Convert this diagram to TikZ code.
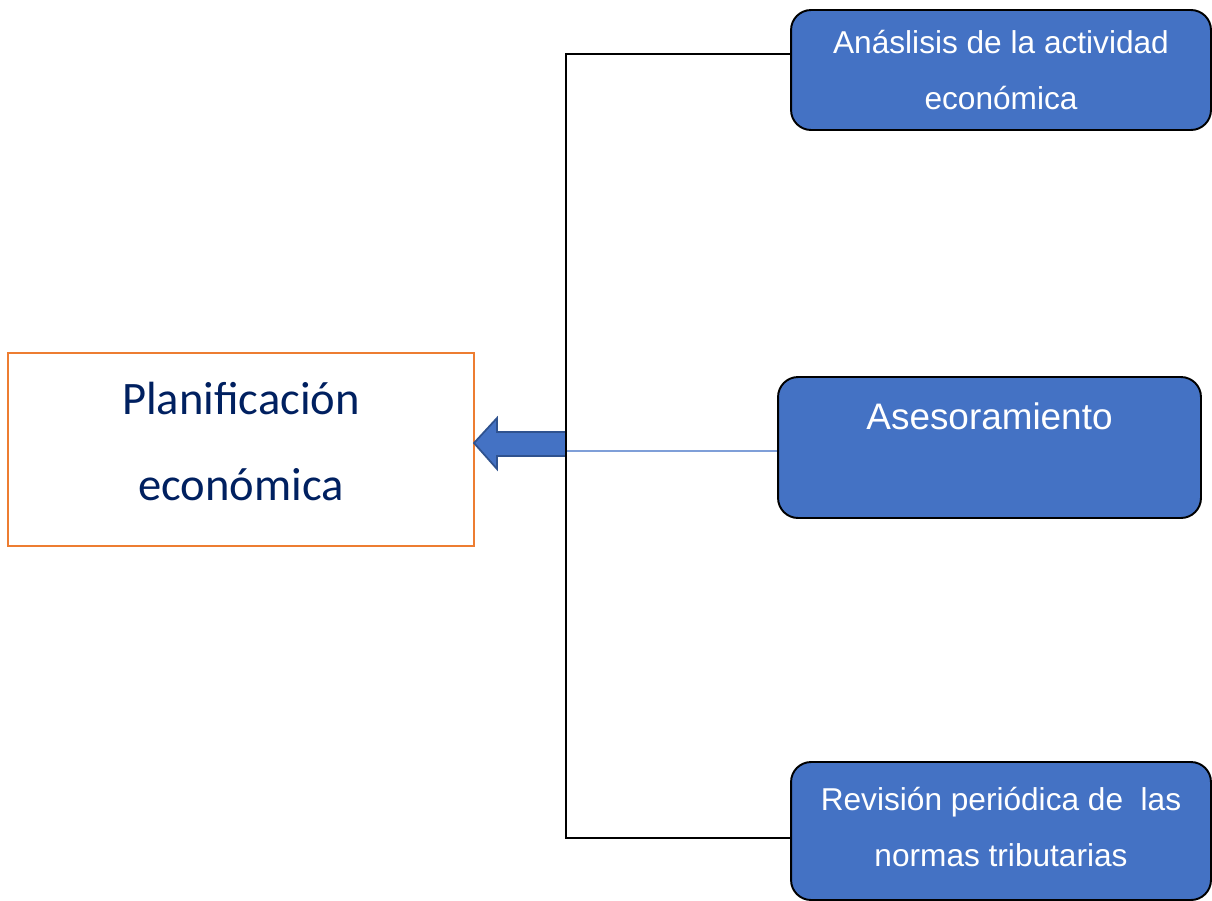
\documentclass[tikz,border=0pt]{standalone}
\usepackage{fontspec}
\setmainfont{Liberation Sans}
\newfontfamily\calibri{Carlito}
\definecolor{boxblue}{HTML}{4472C4}
\definecolor{arrowedge}{HTML}{2F528F}
\definecolor{linkblue}{HTML}{7F9FD8}
\definecolor{planorange}{HTML}{ED7D31}
\definecolor{plannavy}{HTML}{002060}

\begin{document}
\begin{tikzpicture}[x=0.02cm, y=-0.02cm]

\tikzstyle{item} = [rectangle, rounded corners=0.4cm, draw=black, line width=1.1pt, fill=boxblue, text=white, align=center, inner sep=2pt, minimum width=8.4cm, minimum height=2.4cm, font=\fontsize{18}{31.9}\selectfont]
\tikzstyle{plan} = [rectangle, draw=planorange, line width=1.1pt, fill=white, text=plannavy, align=center, minimum width=9.32cm, minimum height=3.86cm, text depth=0.32cm, font=\calibri\fontsize{26.5}{49}\selectfont]

\clip (0,0) rectangle (1212,900);
\fill[white] (0,0) rectangle (1212,900);

\node[plan] (p) at (241,449.5) {Planificación\\económica};

\node[item] (a) at (1001,70) {Anáslisis de la actividad\\económica};
\node[item, minimum width=8.46cm, minimum height=2.82cm, font=\fontsize{21}{35.8}\selectfont] (s) at (989.5,447.5) {Asesoramiento\\~};
\node[item, minimum height=2.76cm, text depth=0.16cm] (r) at (1001,831) {Revisión periódica de \ las\\normas tributarias};

\coordinate (ta) at (566,54);
\coordinate (tm) at (566,451);
\coordinate (tb) at (566,838);

% block arrow into the plan box
\filldraw[fill=boxblue, draw=arrowedge, line width=1pt] (474,443) -- (497,418) -- (497,432) -- (566,432) -- (566,456) -- (497,456) -- (497,469) -- cycle;

\draw[linkblue, line width=0.8pt] (tm) -- (s.west |- tm);
\draw[black, line width=1.1pt] (a.west |- ta) -- (ta) -- (tb) -- (r.west |- tb);
\end{tikzpicture}
\end{document}
